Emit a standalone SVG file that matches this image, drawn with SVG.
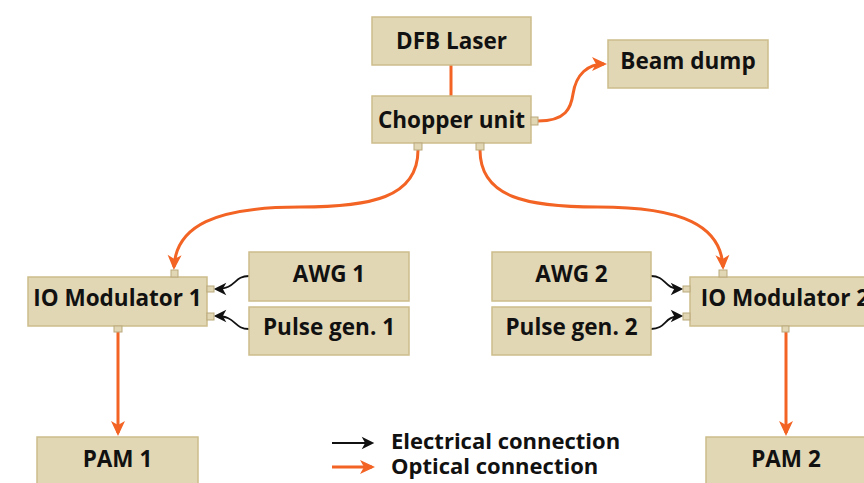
<svg xmlns="http://www.w3.org/2000/svg" width="864" height="483" viewBox="0 0 864 483">
<style>
.box{fill:#e2d7b4;stroke:#cdbd8c;stroke-width:1.5}
.port{fill:#e2d7b4;stroke:#b9a97c;stroke-width:1}
.lbl{font-family:"Open Sans","Liberation Sans",sans-serif;font-weight:700;font-size:22.5px;fill:#111;text-anchor:middle}
.leg{font-family:"Open Sans","Liberation Sans",sans-serif;font-weight:700;font-size:22px;fill:#111}
.opt{fill:none;stroke:#f26324;stroke-width:3}
.ele{fill:none;stroke:#111;stroke-width:1.8}
</style>
<defs>
<marker id="ao" markerUnits="userSpaceOnUse" markerWidth="20" markerHeight="20" viewBox="-16 -8 20 16" refX="-3" refY="0" orient="auto">
<path d="M0,0 L-15,-7 L-11,0 L-15,7 Z" fill="#f26324"/>
</marker>
<marker id="ae" markerUnits="userSpaceOnUse" markerWidth="16" markerHeight="16" viewBox="-12 -6 14 12" refX="-2" refY="0" orient="auto">
<path d="M0,0 L-11,-5.5 L-8,0 L-11,5.5 Z" fill="#111"/>
</marker>
</defs>
<g id="connectors">
<path class="opt" d="M451,65 L451,96"/>
<path class="opt" d="M538,121 C566,121 571,108 573,94 C576,74 588,64 604,64" marker-end="url(#ao)"/>
<path class="opt" d="M418,150 C418,198 370,207 300,207 C215,207 176,226 174,267" marker-end="url(#ao)"/>
<path class="opt" d="M480,150 C480,198 528,207 598,207 C683,207 721,226 723,267" marker-end="url(#ao)"/>
<path class="opt" d="M118,332 L118,433" marker-end="url(#ao)"/>
<path class="opt" d="M786,332 L786,433" marker-end="url(#ao)"/>
<path class="ele" d="M249,276 C233,276 237,289 216,289" marker-end="url(#ae)"/>
<path class="ele" d="M249,329 C233,329 237,316 216,316" marker-end="url(#ae)"/>
<path class="ele" d="M651,276 C667,276 663,289 681,289" marker-end="url(#ae)"/>
<path class="ele" d="M651,329 C667,329 663,316 681,316" marker-end="url(#ae)"/>
<path class="ele" d="M332,443 L372,443" marker-end="url(#ae)"/>
<path class="opt" d="M332,467 L372,467" marker-end="url(#ao)"/>
</g>
<g id="dfb"><rect class="box" x="372" y="17" width="159" height="48"/><text class="lbl" x="451.5" y="49">DFB Laser</text></g>
<g id="chopper"><rect class="box" x="372" y="96" width="159" height="47"/><text class="lbl" x="451.5" y="128">Chopper unit</text>
<rect class="port" x="531" y="117" width="7" height="8"/><rect class="port" x="414" y="143" width="8" height="7"/><rect class="port" x="476" y="143" width="8" height="7"/></g>
<g id="beamdump"><rect class="box" x="608" y="40" width="160" height="48"/><text class="lbl" x="688" y="69">Beam dump</text></g>
<g id="iomod1"><rect class="box" x="28" y="277" width="179" height="49"/><text class="lbl" x="117.5" y="306">IO Modulator 1</text>
<rect class="port" x="171" y="270" width="7" height="7"/><rect class="port" x="207" y="286" width="7" height="6"/><rect class="port" x="207" y="313" width="7" height="7"/><rect class="port" x="114" y="326" width="8" height="6"/></g>
<g id="awg1"><rect class="box" x="249" y="252" width="160" height="49"/><text class="lbl" x="329" y="282">AWG 1</text></g>
<g id="pulse1"><rect class="box" x="249" y="307" width="160" height="48"/><text class="lbl" x="329" y="335">Pulse gen. 1</text></g>
<g id="awg2"><rect class="box" x="492" y="252" width="159" height="49"/><text class="lbl" x="571.5" y="282">AWG 2</text></g>
<g id="pulse2"><rect class="box" x="492" y="307" width="159" height="48"/><text class="lbl" x="571.5" y="335">Pulse gen. 2</text></g>
<g id="iomod2"><rect class="box" x="690" y="277" width="190" height="49"/><text class="lbl" x="785" y="306">IO Modulator 2</text>
<rect class="port" x="719" y="270" width="8" height="7"/><rect class="port" x="683" y="286" width="7" height="6"/><rect class="port" x="683" y="313" width="7" height="7"/><rect class="port" x="782" y="326" width="7" height="6"/></g>
<g id="pam1"><rect class="box" x="37" y="437" width="161" height="50"/><text class="lbl" x="117.5" y="467">PAM 1</text></g>
<g id="pam2"><rect class="box" x="706" y="437" width="160" height="50"/><text class="lbl" x="786" y="467">PAM 2</text></g>
<g id="legend"><text class="leg" x="391" y="449">Electrical connection</text><text class="leg" x="391" y="474">Optical connection</text></g>
</svg>
